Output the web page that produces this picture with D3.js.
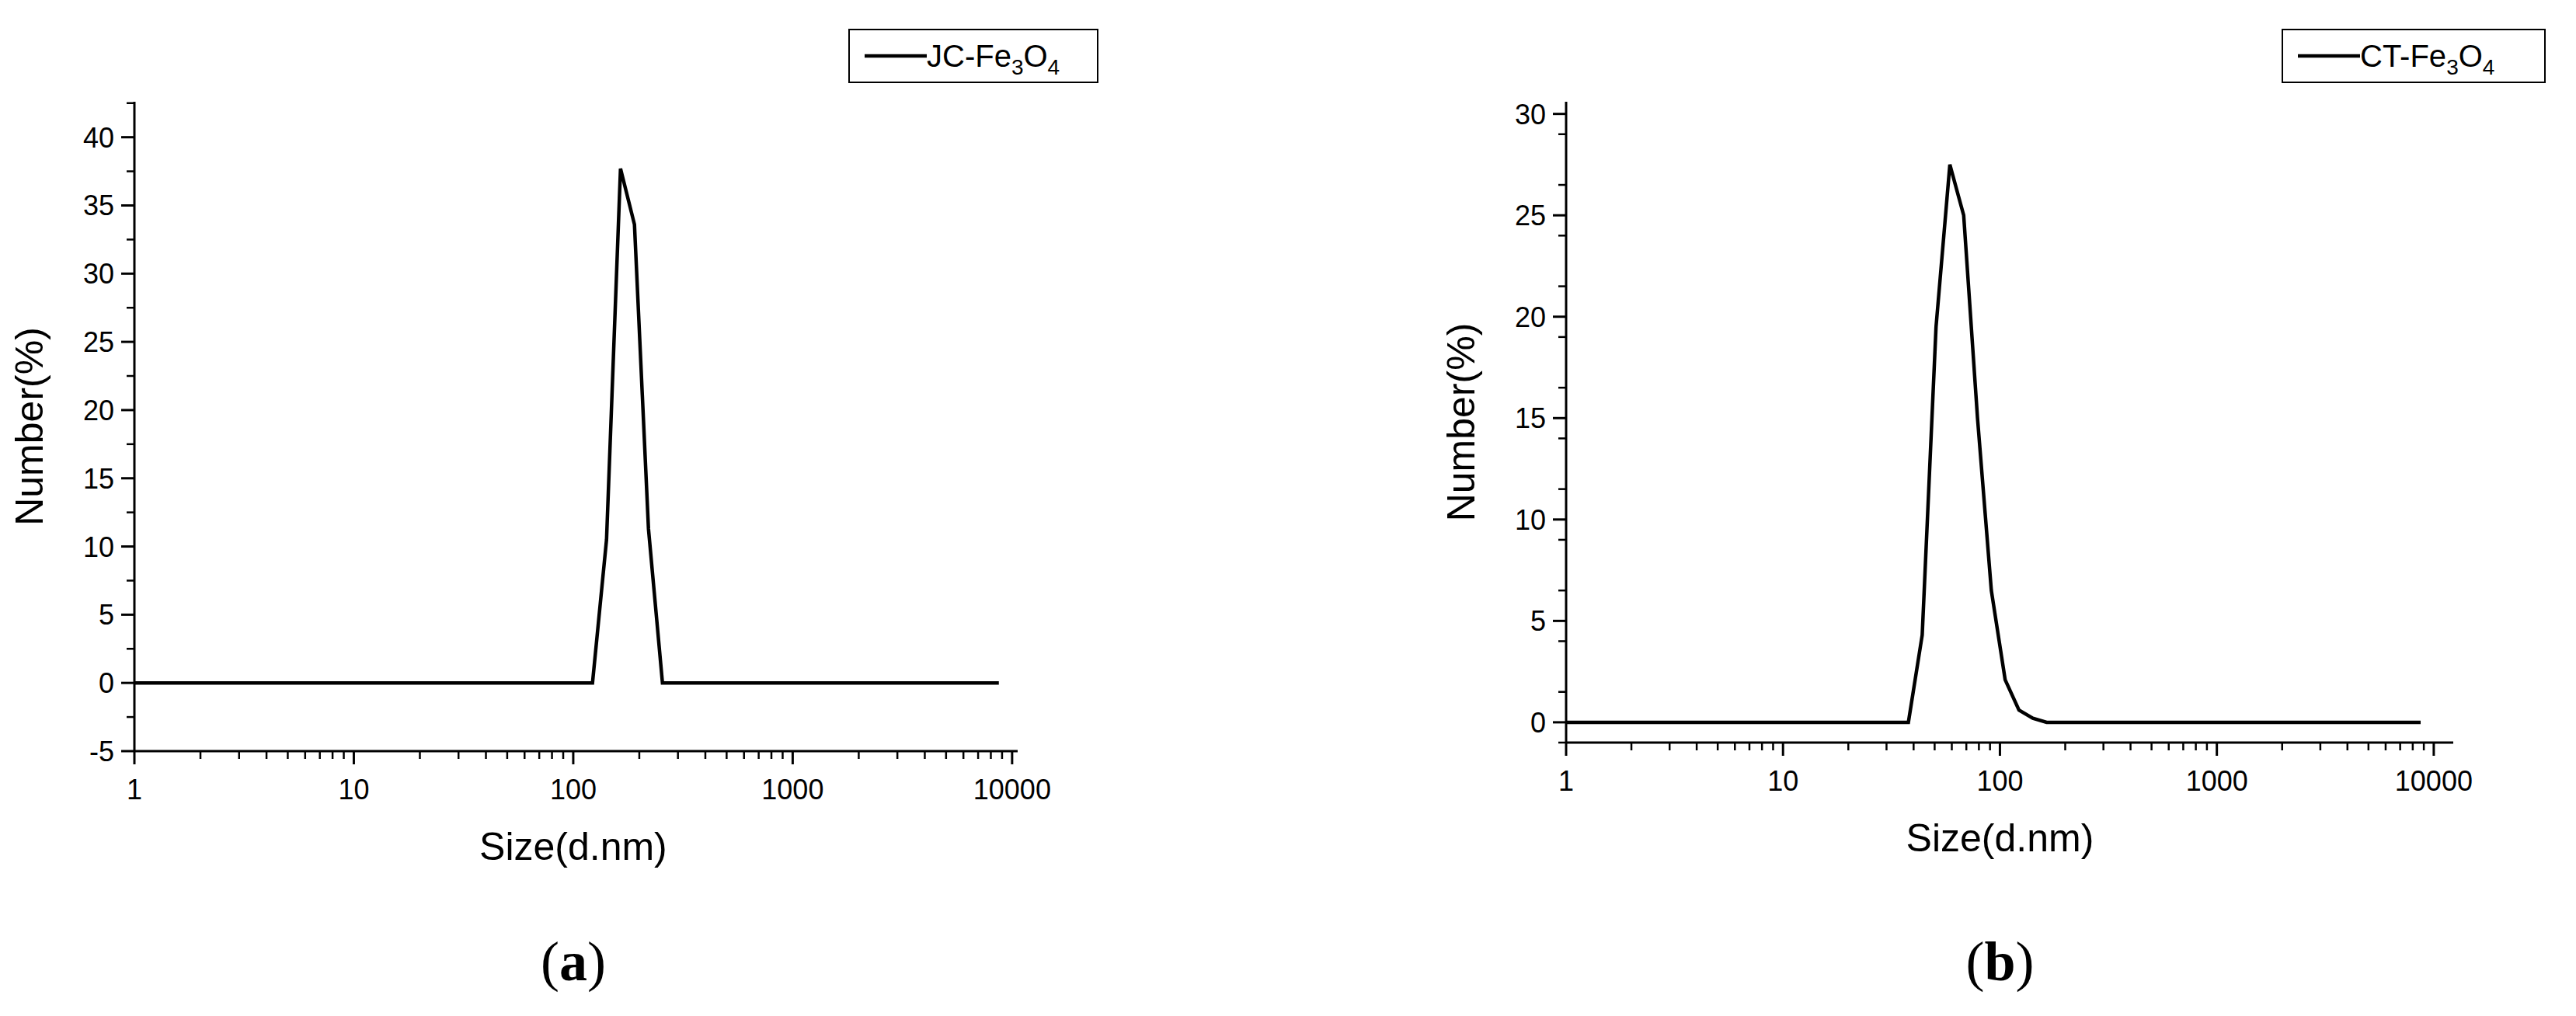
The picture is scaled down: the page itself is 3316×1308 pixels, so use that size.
<!DOCTYPE html>
<html><head><meta charset="utf-8">
<script src="https://cdn.jsdelivr.net/npm/d3@7"></script>
<style>body{margin:0;background:#fff}svg text{font-family:"Liberation Sans Narrow","Liberation Sans",Arial,sans-serif}</style>
</head><body>
<svg id="c" width="3316" height="1308"></svg>
<script>
// panel a: JC-Fe3O4
var sizesA = [1, 122.4, 141.8, 164.2, 190.1, 220.2, 255.0, 8700];
var numberA = [0, 0, 10.5, 37.7, 33.6, 11.3, 0, 0];
// panel b: CT-Fe3O4
var sizesB = [1, 37.84, 43.82, 50.75, 58.77, 68.06, 78.82, 91.28, 105.7, 122.4, 141.8, 164.2, 8700];
var numberB = [0, 0, 4.3, 19.5, 27.5, 25.0, 15.0, 6.5, 2.1, 0.6, 0.2, 0, 0];
var xTicks = [1, 10, 100, 1000, 10000];
var yTicksA = [-5, 0, 5, 10, 15, 20, 25, 30, 35, 40];
var yTicksB = [0, 5, 10, 15, 20, 25, 30];

var svg = d3.select("#c");

function panel(o){
  var g = svg.append("g");
  var x = d3.scaleLog().domain(o.xDom).range([o.left, o.right]);
  var y = d3.scaleLinear().domain(o.yDom).range([o.bottom, o.top]);
  var minorX = [];
  for(var d=1; d<10000; d*=10) for(var k=2;k<10;k++) if(d*k<=o.xDom[1]) minorX.push(d*k);
  var minorY = [];
  for(var v=o.yDom[0]; v<=o.yDom[1]; v+=o.ystep/2) if(o.yTicks.indexOf(v)<0) minorY.push(v);

  // x axis
  g.append("line").attr("x1",o.left).attr("x2",o.right).attr("y1",o.bottom).attr("y2",o.bottom).attr("stroke","#000").attr("stroke-width",3);
  g.selectAll(".xt").data(xTicks).enter().append("line").attr("x1",x).attr("x2",x).attr("y1",o.bottom).attr("y2",o.bottom+17).attr("stroke","#000").attr("stroke-width",3);
  g.selectAll(".xm").data(minorX).enter().append("line").attr("x1",x).attr("x2",x).attr("y1",o.bottom).attr("y2",o.bottom+10).attr("stroke","#000").attr("stroke-width",2.5);
  g.selectAll(".xl").data(xTicks).enter().append("text").attr("x",x).attr("y",o.bottom+62).attr("text-anchor","middle").attr("font-size",36).text(String);
  // y axis
  g.append("line").attr("x1",o.left).attr("x2",o.left).attr("y1",o.top).attr("y2",o.bottom).attr("stroke","#000").attr("stroke-width",3);
  g.selectAll(".yt").data(o.yTicks).enter().append("line").attr("x1",o.left-17).attr("x2",o.left).attr("y1",y).attr("y2",y).attr("stroke","#000").attr("stroke-width",3);
  g.selectAll(".ym").data(minorY).enter().append("line").attr("x1",o.left-10).attr("x2",o.left).attr("y1",y).attr("y2",y).attr("stroke","#000").attr("stroke-width",2.5);
  g.selectAll(".yl").data(o.yTicks).enter().append("text").attr("x",o.left-26).attr("y",function(d){return y(d)+13;}).attr("text-anchor","end").attr("font-size",36).text(String);

  // titles
  g.append("text").attr("x",(o.left+x(10000))/2).attr("y",o.bottom+140).attr("text-anchor","middle").attr("font-size",50).text("Size(d.nm)");
  g.append("text").attr("transform","translate("+(o.left-118)+","+((o.top+o.bottom)/2)+") rotate(-90)").attr("text-anchor","middle").attr("font-size",50).text("Number(%)");
  g.append("text").attr("x",(o.left+x(10000))/2).attr("y",1262).attr("text-anchor","middle").attr("font-size",72).html("(<tspan font-weight='bold'>"+o.tag+"</tspan>)").style("font-family","'Liberation Serif',serif");

  // line
  var pts = o.sx.map(function(s,i){return [s,o.sy[i]];});
  g.append("path").datum(pts).attr("fill","none").attr("stroke","#000").attr("stroke-width",4.5).attr("stroke-linejoin","miter")
    .attr("d",d3.line().x(function(d){return x(d[0]);}).y(function(d){return y(d[1]);}));

  // legend
  var L = o.leg;
  g.append("rect").attr("x",L[0]).attr("y",38).attr("width",L[1]).attr("height",68).attr("fill","#fff").attr("stroke","#000").attr("stroke-width",2);
  g.append("line").attr("x1",L[0]+20).attr("x2",L[0]+100).attr("y1",72).attr("y2",72).attr("stroke","#000").attr("stroke-width",4.5);
  var t = g.append("text").attr("x",L[0]+100).attr("y",86).attr("font-size",40);
  t.append("tspan").text(o.name+"-Fe");
  t.append("tspan").attr("dy",10).attr("font-size",28).text("3");
  t.append("tspan").attr("dy",-10).text("O");
  t.append("tspan").attr("dy",10).attr("font-size",28).text("4");
}

panel({left:173,right:1310,top:131,bottom:967,xDom:[1,10600],yDom:[-5,42.6],yTicks:yTicksA,ystep:5,
  sx:sizesA,sy:numberA,tag:"a",name:"JC",leg:[1093,320]});
panel({left:2016,right:3158,top:131,bottom:956,xDom:[1,12300],yDom:[-1,30.6],yTicks:yTicksB,ystep:5,
  sx:sizesB,sy:numberB,tag:"b",name:"CT",leg:[2938,338]});
</script>
</body></html>
